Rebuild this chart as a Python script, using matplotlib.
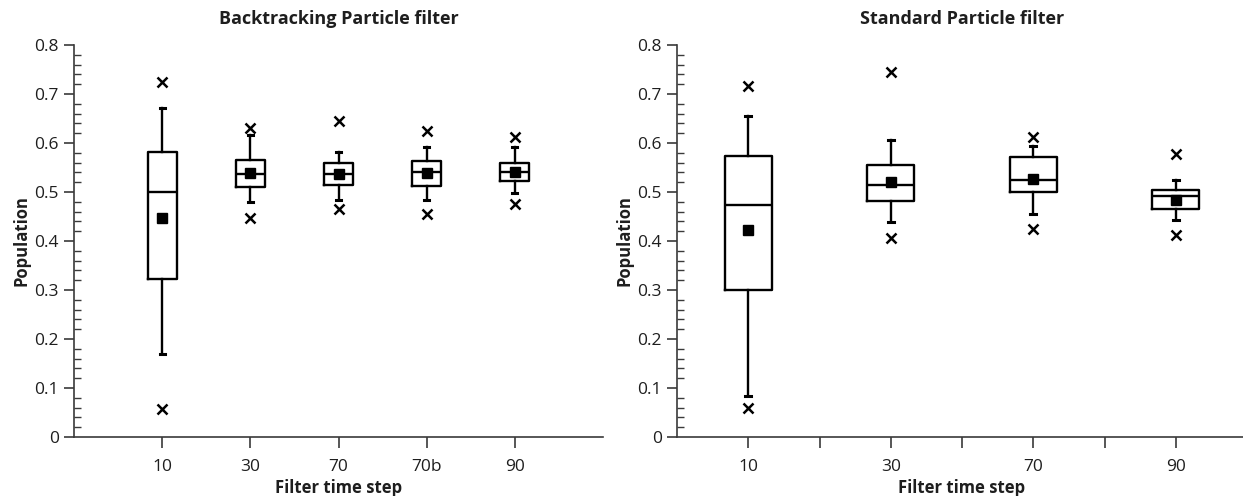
import matplotlib
matplotlib.use("Agg")
import matplotlib.pyplot as plt
from matplotlib.ticker import MultipleLocator, FixedLocator, FuncFormatter

plt.rcParams['font.family'] = ['Open Sans', 'DejaVu Sans']

# backtracking filter, one box per time step
bt_labels = ["10", "30", "70", "70b", "90"]
bt_whislo = [0.170, 0.480, 0.483, 0.483, 0.498]
bt_q1 = [0.322, 0.511, 0.515, 0.513, 0.522]
bt_med = [0.499, 0.537, 0.536, 0.541, 0.541]
bt_q3 = [0.582, 0.565, 0.560, 0.563, 0.560]
bt_whishi = [0.671, 0.616, 0.582, 0.592, 0.592]
bt_mean = [0.447, 0.538, 0.536, 0.538, 0.541]
bt_min = [0.058, 0.446, 0.465, 0.455, 0.475]
bt_max = [0.724, 0.630, 0.645, 0.624, 0.613]

# standard filter
sp_labels = ["10", "30", "70", "90"]
sp_whislo = [0.084, 0.439, 0.456, 0.443]
sp_q1 = [0.299, 0.482, 0.499, 0.465]
sp_med = [0.473, 0.515, 0.525, 0.492]
sp_q3 = [0.574, 0.556, 0.571, 0.505]
sp_whishi = [0.656, 0.606, 0.593, 0.524]
sp_mean = [0.422, 0.520, 0.526, 0.484]
sp_min = [0.060, 0.407, 0.424, 0.412]
sp_max = [0.716, 0.744, 0.612, 0.577]

AX_COL = "#3a3a3a"
TXT_COL = "#1e1e1e"


def make_stats(labels, lo, q1, med, q3, hi, mean, mn, mx):
    stats = []
    for i in range(len(labels)):
        stats.append(dict(label=labels[i], whislo=lo[i], q1=q1[i], med=med[i],
                          q3=q3[i], whishi=hi[i], mean=mean[i],
                          fliers=[mn[i], mx[i]]))
    return stats


def ytick_fmt(v, pos):
    if abs(v) < 1e-9:
        return "0"
    return "%.1f" % v


def draw(ax, stats, title, capw):
    n = len(stats)
    pos = list(range(1, n + 1))
    ax.bxp(stats, positions=pos, widths=0.33, capwidths=capw,
           showmeans=True, showfliers=True,
           boxprops=dict(color="black", linewidth=1.7),
           medianprops=dict(color="black", linewidth=1.7),
           whiskerprops=dict(color="black", linewidth=1.7),
           capprops=dict(color="black", linewidth=2.2),
           meanprops=dict(marker="s", markerfacecolor="black",
                          markeredgecolor="black", markersize=6.5),
           flierprops=dict(marker="x", markeredgecolor="black",
                           markersize=6.5, markeredgewidth=1.8))
    ax.set_ylim(0, 0.8)
    ax.spines["top"].set_visible(False)
    ax.spines["right"].set_visible(False)
    for s in ("left", "bottom"):
        ax.spines[s].set_color(AX_COL)
        ax.spines[s].set_linewidth(1.2)
    ax.yaxis.set_major_locator(MultipleLocator(0.1))
    ax.yaxis.set_minor_locator(MultipleLocator(0.02))
    ax.yaxis.set_major_formatter(FuncFormatter(ytick_fmt))
    ax.tick_params(axis="y", which="major", direction="out", length=7,
                   width=1.2, color=AX_COL, labelsize=12.5, labelcolor=TXT_COL,
                   pad=4)
    ax.tick_params(axis="y", which="minor", direction="in", length=5,
                   width=1.0, color=AX_COL)
    ax.tick_params(axis="x", which="both", direction="out", length=8,
                   width=1.2, color=AX_COL, labelsize=12.5, labelcolor=TXT_COL,
                   pad=8)
    ax.set_title(title, fontsize=13, fontweight="bold", color=TXT_COL, pad=15)
    ax.set_xlabel("Filter time step", fontsize=12, fontweight="bold",
                  color=TXT_COL, labelpad=3)
    ax.set_ylabel("Population", fontsize=12, fontweight="bold",
                  color=TXT_COL, labelpad=3)


fig = plt.figure(figsize=(12.43, 4.96), dpi=100)
ax1 = fig.add_axes([74 / 1243, 59 / 496, 529 / 1243, 392 / 496])
ax2 = fig.add_axes([677 / 1243, 59 / 496, 570 / 1243, 392 / 496])

draw(ax1, make_stats(bt_labels, bt_whislo, bt_q1, bt_med, bt_q3, bt_whishi,
                     bt_mean, bt_min, bt_max),
     "Backtracking Particle filter", 0.06)
ax1.set_xlim(0, 6)

draw(ax2, make_stats(sp_labels, sp_whislo, sp_q1, sp_med, sp_q3, sp_whishi,
                     sp_mean, sp_min, sp_max),
     "Standard Particle filter", 0.04)
ax2.set_xlim(0.5, 4.5)
ax2.xaxis.set_minor_locator(FixedLocator([1.5, 2.5, 3.5]))

fig.savefig("out.png", dpi=100)
